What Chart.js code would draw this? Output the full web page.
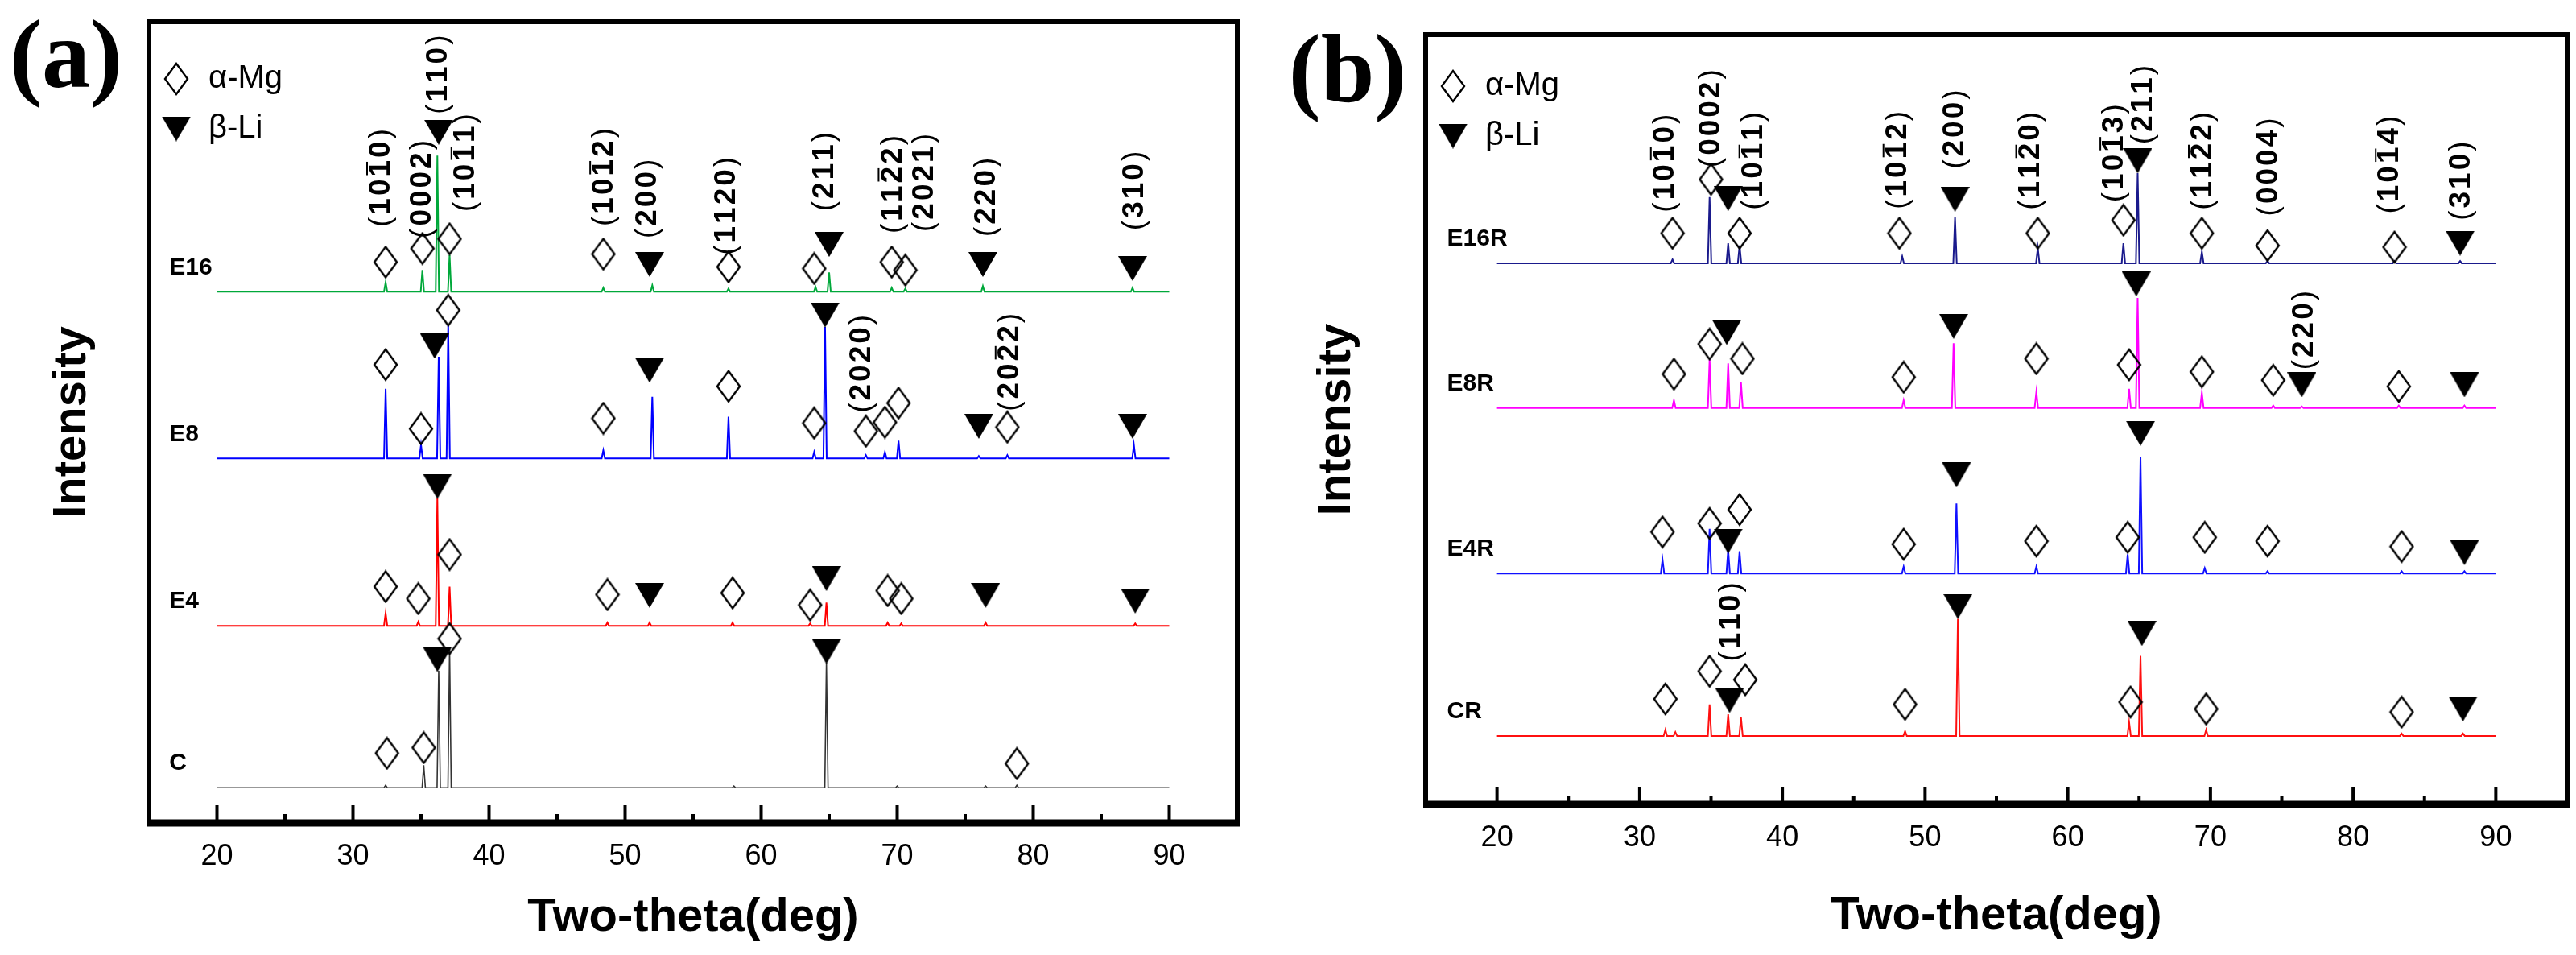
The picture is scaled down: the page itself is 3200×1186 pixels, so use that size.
<!DOCTYPE html>
<html>
<head>
<meta charset="utf-8">
<script src="https://cdn.jsdelivr.net/npm/chart.js@4.4.1/dist/chart.umd.min.js"></script>
<style>
body { margin: 0; background: #fff; }
#wrap { position: relative; width: 3200px; height: 1186px; }
canvas { position: absolute; top: 0; }
#chartA { left: 0; }
#chartB { left: 1600px; }
</style>
</head>
<body>
<div id="wrap">
<canvas id="chartA" width="1600" height="1186"></canvas>
<canvas id="chartB" width="1600" height="1186"></canvas>
</div>
<script>
// x axis
const xTicks = [20, 30, 40, 50, 60, 70, 80, 90];
const xMinor = [25, 35, 45, 55, 65, 75, 85];

// ---- panel (a) ----
const namesA = ["E16", "E8", "E4", "C"];
const offsetsA = [663, 455, 246, 44];
// [2theta, height above baseline]
const peaksE16 = [[32.4, 12], [35.1, 27], [36.2, 170], [37.1, 46], [48.4, 5], [52.0, 8], [57.6, 4], [64.0, 6], [65.0, 24], [69.6, 5], [70.6, 4], [76.3, 7], [87.3, 5]];
const peaksE8 = [[32.4, 87], [35.0, 17], [36.3, 127], [37.0, 167], [48.4, 10], [52.0, 77], [57.6, 52], [63.9, 8], [64.7, 164], [67.7, 4], [69.1, 8], [70.1, 22], [76.0, 3], [78.1, 4], [87.4, 17]];
const peaksE4 = [[32.4, 16], [34.8, 5], [36.2, 159], [37.1, 49], [48.7, 4], [51.8, 4], [57.9, 4], [63.6, 3], [64.8, 29], [69.3, 4], [70.3, 3], [76.5, 4], [87.5, 3]];
const peaksC = [[32.4, 3], [35.2, 28], [36.3, 146], [37.1, 173], [58.0, 2], [64.8, 156], [70.0, 2], [76.5, 2], [78.8, 3]];
const mgA = [[32.4, 700], [35.1, 717], [37.1, 729], [48.4, 710], [57.6, 694], [63.9, 692], [69.6, 700], [70.6, 690],
  [32.4, 572], [35.0, 492], [37.0, 640], [48.4, 505], [57.6, 545], [63.9, 499], [67.7, 489], [69.1, 500], [70.1, 524], [78.1, 494],
  [32.4, 295], [34.8, 280], [37.1, 335], [48.7, 285], [57.9, 287], [63.6, 272], [69.3, 290], [70.3, 280],
  [32.5, 87], [35.2, 94], [37.1, 230], [78.8, 74]];
const liA = [[36.3, 862], [51.8, 697], [65.0, 722], [76.3, 697], [87.3, 692],
  [36.0, 595], [51.8, 565], [64.7, 634], [76.0, 495], [87.3, 495],
  [36.2, 420], [51.8, 284], [64.8, 305], [76.5, 284], [87.5, 277],
  [36.2, 204], [64.8, 214]];
const hklA = ["(1010)", "(0002)", "(110)", "(1011)", "(1012)", "(200)", "(1120)", "(211)", "(1122)", "(2021)", "(220)", "(310)", "(2020)", "(2022)"];
const hklXA = [32.1, 35.1, 36.3, 38.3, 48.5, 51.7, 57.5, 64.7, 69.7, 72.0, 76.6, 87.5, 67.4, 78.3];
const hklYA = [805, 791, 934, 824, 806, 779, 770, 813, 797, 799, 781, 789, 573, 575];
const hklBarA = [3, -1, -1, 3, 3, -1, -1, -1, 3, -1, -1, -1, -1, 3];

// ---- panel (b) ----
const namesB = ["E16R", "E8R", "E4R", "CR"];
const offsetsB = [703, 515, 300, 89];
const peaksE16R = [[32.3, 5], [34.9, 86], [36.2, 26], [37.0, 23], [48.4, 9], [52.1, 60], [57.9, 20], [63.9, 26], [64.9, 117], [69.4, 15], [74.0, 3], [82.9, 3], [87.5, 3]];
const peaksE8R = [[32.4, 10], [34.9, 63], [36.2, 58], [37.1, 33], [48.5, 10], [52.0, 84], [57.8, 21], [64.3, 25], [64.9, 143], [69.4, 20], [74.4, 3], [76.4, 2], [83.2, 3], [87.8, 3]];
const peaksE4R = [[31.6, 18], [34.9, 58], [36.2, 31], [37.0, 29], [48.5, 9], [52.2, 91], [57.8, 9], [64.2, 25], [65.1, 151], [69.6, 7], [74.0, 3], [83.4, 3], [87.8, 3]];
const peaksCR = [[31.8, 8], [32.5, 5], [34.9, 41], [36.2, 28], [37.1, 24], [48.6, 6], [52.3, 152], [64.3, 18], [65.1, 104], [69.7, 8], [83.4, 3], [87.7, 3]];
const mgB = [[32.3, 742], [35.0, 812], [37.0, 742], [48.2, 742], [57.9, 742], [63.9, 759], [69.4, 742], [74.0, 726], [82.9, 724],
  [32.4, 559], [34.9, 598], [37.2, 579], [48.5, 555], [57.8, 579], [64.3, 571], [69.4, 562], [74.4, 551], [83.2, 543],
  [31.6, 354], [34.9, 365], [37.0, 383], [48.5, 338], [57.8, 342], [64.2, 347], [69.6, 347], [74.0, 342], [83.4, 335],
  [31.8, 137], [34.9, 173], [37.4, 162], [48.6, 130], [64.4, 133], [69.7, 124], [83.4, 120]];
const liB = [[36.2, 787], [52.1, 786], [64.9, 836], [87.5, 729],
  [36.1, 613], [52.0, 621], [64.8, 676], [76.4, 545], [87.8, 545],
  [36.2, 342], [52.2, 428], [65.1, 482], [87.8, 327],
  [36.3, 135], [52.3, 257], [65.2, 222], [87.7, 124]];
const hklB = ["(1010)", "(0002)", "(1011)", "(1012)", "(200)", "(1120)", "(1013)", "(211)", "(1122)", "(0004)", "(1014)", "(310)", "(220)", "(110)"];
const hklXB = [31.8, 35.0, 38.0, 48.1, 52.1, 57.4, 63.3, 65.3, 69.5, 74.1, 82.6, 87.6, 76.6, 36.4];
const hklYB = [833, 891, 836, 837, 877, 836, 846, 909, 836, 828, 831, 810, 616, 237];
const hklBarB = [3, -1, 3, 3, -1, 3, 3, -1, 3, -1, 3, -1, -1, -1];

const FONT = "'Liberation Sans', Arial, sans-serif";
Chart.defaults.font.family = FONT;
Chart.defaults.color = "#000";

function makeDiamond(w, h) {
  const c = document.createElement("canvas");
  c.width = w + 4; c.height = h + 4;
  const g = c.getContext("2d");
  g.lineWidth = 2.4; g.strokeStyle = "#000";
  g.beginPath();
  g.moveTo(c.width / 2, 2); g.lineTo(c.width - 2, c.height / 2);
  g.lineTo(c.width / 2, c.height - 2); g.lineTo(2, c.height / 2);
  g.closePath(); g.stroke();
  return c;
}
function makeTriangle(w, h) {
  const c = document.createElement("canvas");
  c.width = w; c.height = h;
  const g = c.getContext("2d");
  g.fillStyle = "#000";
  g.beginPath(); g.moveTo(0, 0); g.lineTo(w, 0); g.lineTo(w / 2, h); g.closePath(); g.fill();
  return c;
}
const mgImg = makeDiamond(28, 38);
const liImg = makeTriangle(36, 31);

// spike profile for one pattern
function profile(peaks, off) {
  const pts = [{x: 20, y: off}];
  peaks.forEach(([p, h]) => {
    pts.push({x: p - 0.12, y: off}, {x: p, y: off + h}, {x: p + 0.12, y: off});
  });
  pts.push({x: 90, y: off});
  return pts;
}
const toPts = arr => arr.map(([x, y]) => ({x, y}));

// rotated hkl label with spaced characters and optional overbar
function drawHkl(ctx, t, bar) {
  const gap = 3;
  const ws = [...t].map(ch => ctx.measureText(ch).width);
  const total = ws.reduce((s, w) => s + w, 0) + gap * (ws.length - 1);
  let pos = -total / 2;
  [...t].forEach((ch, k) => {
    const isParen = ch === "(" || ch === ")";
    ctx.font = (isParen ? "" : "bold ") + "37px " + FONT;
    ctx.fillText(ch, pos, 0);
    if (k === bar) {
      ctx.lineWidth = 2;
      ctx.beginPath(); ctx.moveTo(pos + 2, -18); ctx.lineTo(pos + ws[k] - 2, -18); ctx.stroke();
    }
    pos += ws[k] + gap;
  });
}

function panelPlugin(p) {
  return {
    id: "panel" + p.letter,
    afterDatasetsDraw(chart) {
      const {ctx, chartArea: a, scales: {x, y}} = chart;
      ctx.save();
      ctx.strokeStyle = "#000";
      ctx.fillStyle = "#000";
      // frame
      ctx.lineWidth = 6;
      ctx.strokeRect(a.left, a.top, a.right - a.left, a.bottom - a.top);
      ctx.lineWidth = 9;
      ctx.beginPath(); ctx.moveTo(a.left - 3, a.bottom); ctx.lineTo(a.right + 3, a.bottom); ctx.stroke();
      // inward ticks
      ctx.lineWidth = 4;
      xTicks.forEach(v => {
        const px = x.getPixelForValue(v);
        ctx.beginPath(); ctx.moveTo(px, a.bottom); ctx.lineTo(px, a.bottom - 22); ctx.stroke();
      });
      xMinor.forEach(v => {
        const px = x.getPixelForValue(v);
        ctx.beginPath(); ctx.moveTo(px, a.bottom); ctx.lineTo(px, a.bottom - 11); ctx.stroke();
      });
      // pattern names
      ctx.font = "bold 30px " + FONT;
      ctx.textAlign = "left"; ctx.textBaseline = "middle";
      p.names.forEach((n, i) => {
        ctx.fillText(n, x.getPixelForValue(16.5), y.getPixelForValue(p.offsets[i]) - 30);
      });
      // hkl labels, rotated
      ctx.font = "bold 37px " + FONT;
      ctx.textAlign = "left";
      p.hkl.forEach((t, i) => {
        ctx.save();
        ctx.translate(x.getPixelForValue(p.hklX[i]), y.getPixelForValue(p.hklY[i]));
        ctx.rotate(-Math.PI / 2);
        drawHkl(ctx, t, p.hklBar[i]);
        ctx.restore();
      });
      // legend
      const lx = a.left + 34;
      ctx.drawImage(mgImg, lx - mgImg.width / 2, p.legY - mgImg.height / 2);
      ctx.drawImage(liImg, lx - liImg.width / 2, p.legY + 62 - liImg.height / 2);
      ctx.font = "40px " + FONT;
      ctx.textAlign = "left";
      ctx.fillText("α-Mg", lx + 40, p.legY);
      ctx.fillText("β-Li", lx + 40, p.legY + 62);
      // panel letter
      ctx.font = "bold 120px 'Liberation Serif', 'Times New Roman', serif";
      ctx.textAlign = "center";
      ctx.fillText("(" + p.letter + ")", p.letX, p.letY);
      ctx.restore();
    }
  };
}

function buildChart(id, p) {
  const datasets = [
    {type: "scatter", label: "α-Mg", data: toPts(p.mg), pointStyle: mgImg, pointRadius: 5},
    {type: "scatter", label: "β-Li", data: toPts(p.li), pointStyle: liImg, pointRadius: 5}
  ];
  p.names.forEach((n, i) => {
    datasets.push({type: "line", label: n, data: profile(p.peaks[i], p.offsets[i]),
      borderColor: p.colors[i], borderWidth: p.widths[i], pointRadius: 0, tension: 0, fill: false});
  });
  return new Chart(document.getElementById(id), {
    type: "line",
    data: {datasets},
    options: {
      responsive: false,
      animation: false,
      devicePixelRatio: 1,
      events: [],
      layout: {padding: {left: 0, right: p.padRight, top: p.padTop, bottom: 0}},
      plugins: {legend: {display: false}, tooltip: {enabled: false}},
      scales: {
        x: {
          type: "linear", min: 15, max: 95, position: "bottom",
          grid: {display: false, drawTicks: false},
          border: {display: false},
          ticks: {font: {size: 36}, color: "#000", padding: p.tickPad},
          afterBuildTicks: s => { s.ticks = xTicks.map(v => ({value: v})); },
          afterFit: s => { s.height = p.xHeight; },
          title: {display: true, text: "Two-theta(deg)", font: {size: 58, weight: "bold"}, color: "#000",
            padding: {top: 0, bottom: p.titlePad}}
        },
        y: {
          min: 0, max: 1000,
          grid: {display: false, drawTicks: false},
          border: {display: false},
          ticks: {display: false},
          afterFit: s => { s.width = p.yWidth; },
          title: {display: true, text: "Intensity", font: {size: 58, weight: "bold"}, color: "#000",
            padding: {top: p.yTitlePad, bottom: 0}}
        }
      }
    },
    plugins: [panelPlugin(p)]
  });
}

buildChart("chartA", {
  letter: "a", names: namesA, offsets: offsetsA,
  peaks: [peaksE16, peaksE8, peaksE4, peaksC],
  colors: ["#00a83a", "#0000ff", "#ff0000", "#333333"], widths: [2, 2, 2, 1.6],
  mg: mgA, li: liA, hkl: hklA, hklX: hklXA, hklY: hklYA, hklBar: hklBarA,
  padRight: 63, padTop: 27, xHeight: 164, yWidth: 185, tickPad: 20, titlePad: 11, yTitlePad: 55,
  legY: 98, letX: 82, letY: 77
});
buildChart("chartB", {
  letter: "b", names: namesB, offsets: offsetsB,
  peaks: [peaksE16R, peaksE8R, peaksE4R, peaksCR],
  colors: ["#1a1a8c", "#ff00ff", "#1010ff", "#ff1010"], widths: [2, 2, 2, 2],
  mg: mgB, li: liB, hkl: hklB, hklX: hklXB, hklY: hklYB, hklBar: hklBarB,
  padRight: 11, padTop: 43, xHeight: 187, yWidth: 171, tickPad: 20, titlePad: 13, yTitlePad: 26,
  legY: 107, letX: 74, letY: 95
});
</script>
</body>
</html>
